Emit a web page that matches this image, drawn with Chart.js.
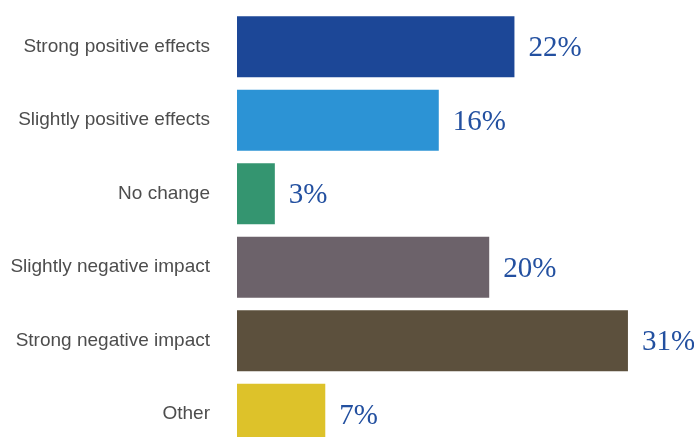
<!DOCTYPE html>
<html lang="en">
<head>
  <meta charset="UTF-8">
  <title>Perceived effects</title>
  <style>
    html, body {
      margin: 0;
      padding: 0;
      background: #fff;
      overflow: hidden;
    }
    canvas {
      display: block;
    }
  </style>
  <script src="https://cdn.jsdelivr.net/npm/chart.js"></script>
</head>
<body>
  <canvas id="chart" width="694" height="451"></canvas>

  <script>
    const categories = [
      'Strong positive effects',
      'Slightly positive effects',
      'No change',
      'Slightly negative impact',
      'Strong negative impact',
      'Other'
    ];
    const shares = [22, 16, 3, 20, 31, 7];
    const barColors = ['#1c4797', '#2c93d5', '#349570', '#6c626a', '#5c503d', '#ddc22a'];

    // percentage text to the right of each bar
    const valueLabels = {
      id: 'valueLabels',
      afterDatasetsDraw(chart) {
        const ctx = chart.ctx;
        const meta = chart.getDatasetMeta(0);
        ctx.save();
        ctx.font = '29px "Liberation Serif", serif';
        ctx.fillStyle = '#2350a0';
        ctx.textAlign = 'left';
        ctx.textBaseline = 'middle';
        meta.data.forEach((bar, i) => {
          ctx.fillText(shares[i] + '%', bar.x + 14, bar.y + 2);
        });
        ctx.restore();
      }
    };

    new Chart(document.getElementById('chart'), {
      type: 'bar',
      data: {
        labels: categories,
        datasets: [{
          data: shares,
          backgroundColor: barColors,
          borderWidth: 0,
          barPercentage: 0.83,
          categoryPercentage: 1
        }]
      },
      options: {
        indexAxis: 'y',
        responsive: false,
        animation: false,
        layout: { padding: { top: 10, bottom: 0, left: 0, right: 3 } },
        plugins: {
          legend: { display: false },
          tooltip: { enabled: false }
        },
        scales: {
          x: {
            display: false,
            min: 0,
            max: 36
          },
          y: {
            grid: { display: false, drawTicks: false },
            border: { display: false },
            ticks: {
              color: '#4d4d4d',
              padding: 27,
              font: { family: '"Liberation Sans", Arial, sans-serif', size: 19 }
            },
            afterFit(scale) {
              // keep the plot edge fixed and stop the label padding from
              // shrinking the bars vertically
              scale.width = 237;
              scale.paddingTop = 0;
              scale.paddingBottom = 0;
            }
          }
        }
      },
      plugins: [valueLabels]
    });
  </script>
</body>
</html>
